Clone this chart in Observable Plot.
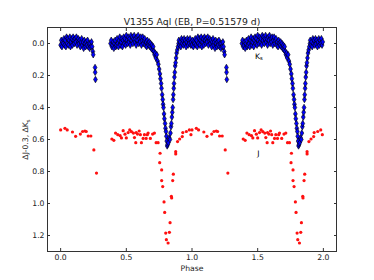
<!DOCTYPE html>
<html><head><meta charset="utf-8">
<script src="https://cdn.jsdelivr.net/npm/d3@7"></script>
<script src="https://cdn.jsdelivr.net/npm/@observablehq/plot@0.6"></script>
<style>body{margin:0;background:#fff} svg{display:block}</style>
</head><body><div id="chart"></div><script>
// Ks light curve, one cycle (phase, delta Ks)
const phaseK = [0.000,0.005,0.010,0.015,0.020,0.025,0.030,0.035,0.040,0.045,0.050,0.055,0.060,0.065,0.070,0.075,0.080,0.085,0.090,0.095,0.100,0.105,0.110,0.115,0.120,0.125,0.130,0.135,0.140,0.145,0.150,0.155,0.160,0.165,0.170,0.175,0.180,0.185,0.190,0.195,0.200,0.205,0.210,0.215,0.220,0.225,0.230,0.235,0.240,0.245,0.248,0.262,0.263,0.265,
0.380,0.385,0.390,0.395,0.400,0.405,0.410,0.415,0.420,0.425,0.430,0.435,0.440,0.445,0.450,0.455,0.460,0.465,0.470,0.475,0.480,0.485,0.490,0.495,0.500,0.505,0.510,0.515,0.520,0.525,0.530,0.535,0.540,0.545,0.550,0.555,0.560,0.565,0.570,0.575,0.580,0.585,0.590,0.595,0.600,0.605,0.610,0.615,0.620,0.625,0.630,0.635,0.640,0.645,0.650,0.655,0.660,0.665,0.670,0.675,0.680,0.685,0.690,0.695,0.700,0.705,0.710,0.715,0.720,0.725,
0.732,0.738,0.744,0.750,0.756,0.760,0.765,0.768,0.773,0.777,0.780,0.783,0.787,0.790,0.795,0.798,0.802,0.805,0.808,0.811,0.815,0.820,0.826,0.832,0.836,0.840,0.843,0.847,0.850,0.853,0.856,0.858,0.861,0.863,0.866,0.869,0.872,0.875,0.879,0.883,0.888,0.893,0.898,
0.900,0.905,0.910,0.915,0.920,0.925,0.930,0.935,0.940,0.945,0.950,0.955,0.960,0.965,0.970,0.975,0.980,0.985,0.990,0.995];
const dK = [0.01,-0.02,0.02,-0.01,0.00,-0.03,0.01,-0.02,0.02,-0.04,0.00,-0.03,0.01,-0.02,-0.04,0.02,-0.01,-0.03,0.01,-0.04,-0.02,0.00,-0.03,-0.01,-0.04,0.01,-0.02,-0.03,0.00,-0.02,0.02,-0.01,-0.03,0.01,-0.01,0.03,-0.02,0.00,0.02,-0.01,0.01,-0.02,0.02,0.00,0.03,0.00,0.02,-0.01,0.02,0.05,0.07,0.15,0.18,0.225,
0.00,-0.02,0.02,0.01,-0.01,0.03,0.00,-0.02,0.02,0.01,-0.03,0.00,0.02,-0.02,-0.04,0.01,-0.01,-0.03,0.02,-0.02,-0.04,0.00,-0.03,0.01,-0.05,-0.02,0.00,-0.04,-0.01,-0.03,0.01,-0.05,-0.02,-0.04,0.00,-0.03,-0.05,-0.01,-0.03,0.01,-0.04,-0.02,-0.05,0.00,-0.03,-0.01,-0.04,0.01,-0.02,-0.04,0.00,-0.02,-0.03,0.01,-0.01,0.02,-0.02,0.00,0.01,-0.01,0.02,0.00,0.03,0.01,0.04,0.02,0.05,0.07,0.06,0.09,
0.07,0.11,0.13,0.16,0.19,0.22,0.25,0.28,0.32,0.35,0.38,0.40,0.44,0.47,0.50,0.53,0.55,0.58,0.61,0.64,0.63,0.62,0.59,0.60,0.56,0.52,0.50,0.46,0.43,0.40,0.35,0.32,0.28,0.25,0.21,0.18,0.14,0.12,0.09,0.06,0.04,0.02,0.00,
-0.02,0.01,-0.01,0.02,-0.03,0.00,-0.02,0.01,-0.03,0.00,-0.02,0.02,-0.01,-0.03,0.01,-0.02,0.00,-0.03,0.01,-0.01];

// J light curve (offset by 0.3), one cycle
const phaseJ = [0.000,0.033,0.050,0.090,0.114,0.150,0.167,0.185,0.195,0.210,0.230,0.253,0.273,
0.390,0.405,0.418,0.435,0.453,0.463,0.476,0.490,0.500,0.514,0.526,0.539,0.554,0.562,0.572,0.575,0.585,0.598,0.607,0.615,0.628,0.638,0.651,0.660,0.666,0.683,0.700,0.714,0.727,0.742,
0.757,0.754,0.769,0.769,0.777,0.787,0.792,0.800,0.805,0.818,0.828,0.833,0.843,0.845,0.853,0.858,0.876,0.876,0.890,0.906,0.926,0.930,0.957,0.980,0.992];
const dJ = [0.54,0.53,0.54,0.553,0.58,0.566,0.55,0.547,0.55,0.578,0.578,0.665,0.81,
0.597,0.605,0.56,0.57,0.576,0.59,0.545,0.567,0.59,0.557,0.54,0.551,0.56,0.588,0.62,0.557,0.566,0.547,0.57,0.62,0.593,0.57,0.593,0.57,0.56,0.593,0.566,0.56,0.62,0.62,
0.686,0.745,0.79,0.857,0.894,0.99,1.056,1.185,1.226,1.247,1.18,1.12,0.955,0.965,0.857,0.817,0.676,0.69,0.613,0.597,0.582,0.557,0.55,0.54,0.57];

const cycles = [0, 1];
const xTicks = [0, 0.5, 1, 1.5, 2];
const yTicks = [0, 0.2, 0.4, 0.6, 0.8, 1.0, 1.2];
const titleText = "V1355 Aql (EB, P=0.51579 d)";
const xLabel = "Phase";
const yLabel = "ΔJ-0.3, ΔKs";
const annotations = [{label: "Ks", phase: 1.51, value: 0.08}, {label: "J", phase: 1.505, value: 0.686}];

const kData = cycles.flatMap(c => phaseK.map((p, i) => ({phase: p + c, v: dK[i]})));
const jData = cycles.flatMap(c => phaseJ.map((p, i) => ({phase: p + c, v: dJ[i]})));

const ink = "#222";
const chart = Plot.plot({
  width: 374, height: 280,
  marginLeft: 47, marginRight: 38, marginTop: 27, marginBottom: 29,
  style: {fontFamily: "'DejaVu Sans'", fontSize: "7.7px", background: "#fff", color: ink},
  x: {domain: [-0.1, 2.1]},
  y: {domain: [-0.1, 1.3], reverse: true},
  marks: [
    Plot.dot(jData, {x: "phase", y: "v", r: 1.6, fill: "#ff1010", stroke: "none"}),
    Plot.dot(kData, {x: "phase", y: "v", symbol: "diamond", r: 2.0, fill: "#0000ff", stroke: "#000", strokeWidth: 0.6}),
    Plot.frame({stroke: "#333"}),
    Plot.axisX({anchor: "bottom", ticks: xTicks, tickSize: 3, dy: -3, fill: "none", label: null, stroke: "#333"}),
    Plot.axisX({anchor: "top", ticks: xTicks, tickSize: 3, dy: 3, fill: "none", label: null, stroke: "#333"}),
    Plot.axisY({anchor: "left", ticks: yTicks, tickSize: 3, dx: 3, fill: "none", label: null, stroke: "#333"}),
    Plot.axisY({anchor: "right", ticks: yTicks, tickSize: 3, dx: -3, fill: "none", label: null, stroke: "#333"}),
    Plot.axisX({anchor: "bottom", ticks: xTicks, tickSize: 0, tickPadding: 3, tickFormat: d3.format(".1f"), label: null, fill: ink}),
    Plot.axisY({anchor: "left", ticks: yTicks, tickSize: 0, tickPadding: 3, tickFormat: d3.format(".1f"), label: null, fill: ink}),
    Plot.text(annotations, {x: "phase", y: "value", text: "label", fill: "#000", textAnchor: "middle"}),
    Plot.text([titleText], {frameAnchor: "top", dy: -5, lineAnchor: "middle", fontSize: 9.3, fill: ink}),
    Plot.text([xLabel], {frameAnchor: "bottom", dy: 17.5, lineAnchor: "middle", fill: ink}),
    Plot.text([yLabel], {frameAnchor: "left", dx: -22, rotate: -90, lineAnchor: "middle", textAnchor: "middle", fill: ink})
  ]
});

// subscript "s" in Ks
d3.select(chart).selectAll("text").each(function() {
  const t = this.textContent;
  if (t.endsWith("Ks") && this.children.length === 0) {
    const el = d3.select(this);
    el.text(t.slice(0, -1));
    el.append("tspan").attr("dy", "0.3em").attr("font-size", "70%").text("s");
  }
});
document.getElementById("chart").appendChild(chart);
</script></body></html>
